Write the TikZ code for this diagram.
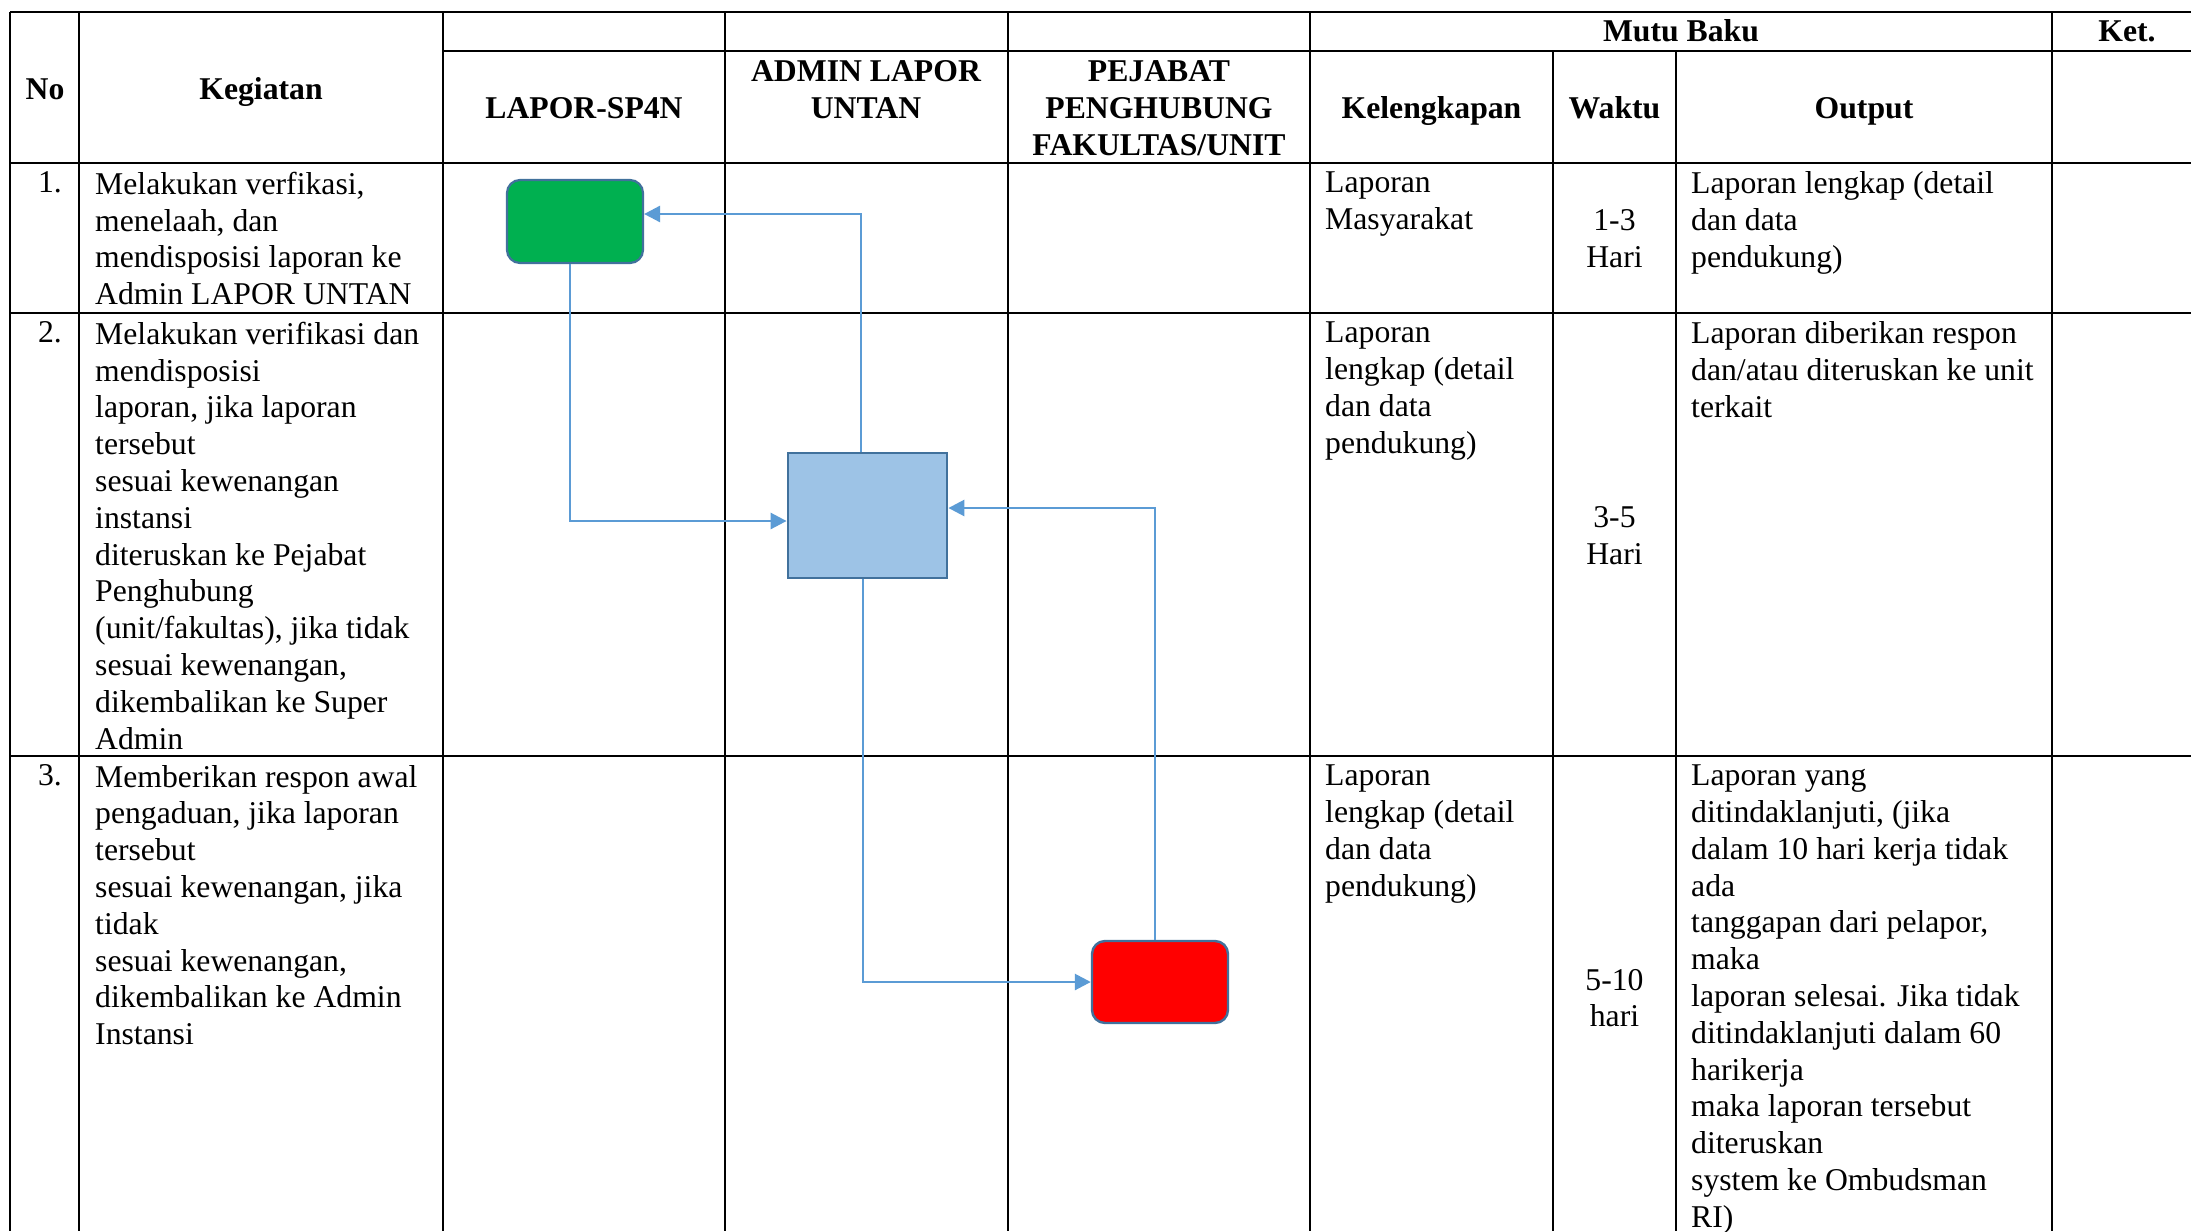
\documentclass[tikz,border=0pt]{standalone}
\usepackage{fontspec}
\setmainfont{Liberation Serif}
\usetikzlibrary{arrows.meta}
\definecolor{grnfill}{HTML}{00B050}
\definecolor{bluefill}{HTML}{9DC3E6}
\definecolor{redfill}{HTML}{FF0000}
\definecolor{shapeline}{HTML}{41719C}
\definecolor{connline}{HTML}{5B9BD5}
\newcommand\bodyfont{\fontsize{31.7}{36.8}\selectfont}
\tikzset{
  grid/.style={line width=2.1pt, black},
  hd/.style={anchor=base, inner sep=0pt, font=\bfseries\bodyfont},
  hdm/.style={anchor=north, inner sep=0pt, align=center, font=\bfseries\bodyfont, yshift=20.2pt, execute at begin node=\strut},
  txt/.style={anchor=north west, inner sep=0pt, align=left, font=\bodyfont, yshift=20.2pt, execute at begin node=\strut},
  ctr/.style={anchor=north, inner sep=0pt, align=center, font=\bodyfont, yshift=20.2pt, execute at begin node=\strut},
  num/.style={anchor=base east, inner sep=0pt, font=\bodyfont},
  shapebox/.style={draw=shapeline, inner sep=0pt},
  greenbox/.style={shapebox, line width=2.2pt, fill=grnfill, rounded corners=13pt, minimum width=136pt, minimum height=83pt},
  bluebox/.style={shapebox, line width=2.8pt, fill=bluefill, minimum width=159pt, minimum height=125pt},
  redbox/.style={shapebox, line width=2.4pt, fill=redfill, rounded corners=13pt, minimum width=136pt, minimum height=82pt},
  conn/.style={draw=connline, line width=2.7pt, -{Triangle[length=16pt,width=16pt]}},
}
\begin{document}
\begin{tikzpicture}[x=1pt,y=-1pt]
\useasboundingbox (0,0) rectangle (2191,1231);
\clip (0,0) rectangle (2191,1231);
\fill[white] (0,0) rectangle (2191,1231);

% table grid
\draw[grid] (10,12) -- (2191,12);
\draw[grid] (443,51) -- (2191,51);
\draw[grid] (10,163) -- (2191,163);
\draw[grid] (10,313) -- (2191,313);
\draw[grid] (10,756) -- (2191,756);
\foreach \x in {10,79,443,725,1008,1310,2052}
  \draw[grid] (\x,12) -- (\x,1231);
\foreach \x in {1553,1676}
  \draw[grid] (\x,51) -- (\x,1231);

% headers
\node[hd] (hno) at (45,99) {No};
\node[hd] (hkeg) at (261,99) {Kegiatan};
\node[hd] (hlap) at (584,118) {LAPOR-SP4N};
\node[hdm] (hadm) at (866,81) {ADMIN LAPOR\\UNTAN};
\node[hdm] (hpej) at (1159,81) {PEJABAT\\PENGHUBUNG\\FAKULTAS/UNIT};
\node[hd] (hmutu) at (1681,42) {Mutu Baku};
\node[hd] (hket) at (2127,42) {Ket.};
\node[hd] (hkel) at (1431.5,118) {Kelengkapan};
\node[hd] (hwak) at (1614.5,118) {Waktu};
\node[hd] (hout) at (1864,118) {Output};

% row 1
\node[num] (n1) at (62,192) {1.};
\node[txt] (k1) at (95,192) {Melakukan verfikasi,\\menelaah, dan\\mendisposisi laporan ke\\Admin LAPOR UNTAN};
\node[txt] (l1) at (1325,192) {Laporan\\Masyarakat};
\node[ctr] (w1) at (1614.5,230) {1-3\\Hari};
\node[txt] (o1) at (1691,192) {Laporan lengkap (detail\\dan data\\pendukung)};

% row 2
\node[num] (n2) at (62,342) {2.};
\node[txt] (k2) at (95,342) {Melakukan verifikasi dan\\mendisposisi\\laporan, jika laporan\\tersebut\\sesuai kewenangan\\instansi\\diteruskan ke Pejabat\\Penghubung\\(unit/fakultas), jika tidak\\sesuai kewenangan,\\dikembalikan ke Super\\Admin};
\node[txt] (l2) at (1325,342) {Laporan\\lengkap (detail\\dan data\\pendukung)};
\node[ctr] (w2) at (1614.5,526.5) {3-5\\Hari};
\node[txt] (o2) at (1691,342) {Laporan diberikan respon\\dan/atau diteruskan ke unit\\terkait};

% row 3
\node[num] (n3) at (62,785) {3.};
\node[txt] (k3) at (95,785) {Memberikan respon awal\\pengaduan, jika laporan\\tersebut\\sesuai kewenangan, jika\\tidak\\sesuai kewenangan,\\dikembalikan ke Admin\\Instansi};
\node[txt] (l3) at (1325,785) {Laporan\\lengkap (detail\\dan data\\pendukung)};
\node[ctr] (w3) at (1614.5,989) {5-10\\hari};
\node[txt] (o3) at (1691,785) {Laporan yang\\ditindaklanjuti, (jika\\dalam 10 hari kerja tidak\\ada\\tanggapan dari pelapor,\\maka\\laporan selesai. Jika tidak\\ditindaklanjuti dalam 60\\harikerja\\maka laporan tersebut\\diteruskan\\system ke Ombudsman\\RI)};

% flow shapes
\node[greenbox] (g) at (575,221.5) {};
\node[bluebox] (b) at (867.5,515.5) {};
\node[redbox] (r) at (1160,982) {};

% connectors
\draw[conn] ([xshift=-5pt]g.south) |- ([yshift=-5.5pt]b.west);
\draw[conn] ([xshift=-6.5pt]b.north) |- ([yshift=7.5pt]g.east);
\draw[conn] ([xshift=-4.5pt]b.south) |- (r.west);
\draw[conn] ([xshift=-5pt]r.north) |- ([yshift=7.5pt]b.east);
\end{tikzpicture}
\end{document}
